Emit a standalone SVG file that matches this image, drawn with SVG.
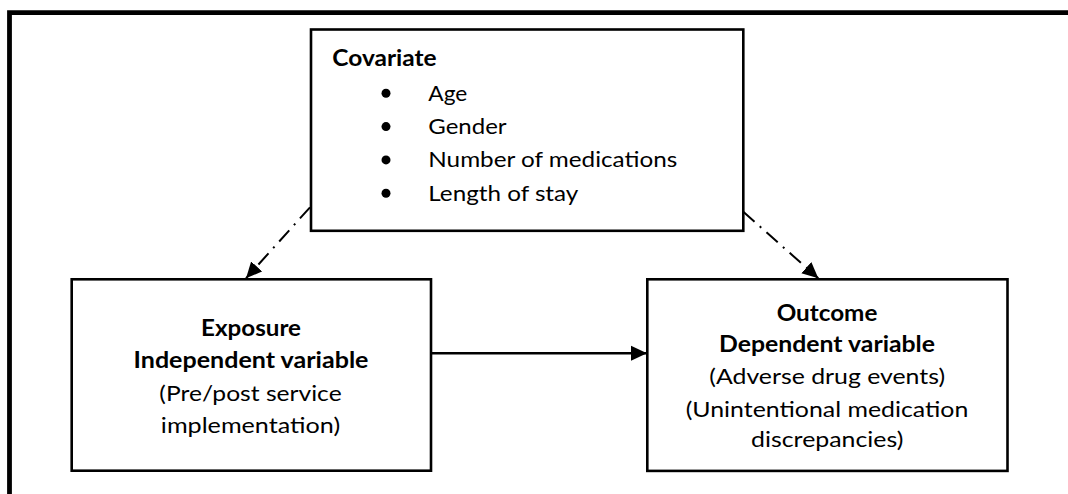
<svg xmlns="http://www.w3.org/2000/svg" width="1068" height="494" viewBox="0 0 1068 494">
<style>
.box{fill:#fff;stroke:#000;stroke-width:2.6}
.t{font-family:Lato,"Liberation Sans",sans-serif;font-size:22px;fill:#000}
.b{font-weight:bold}
.c{text-anchor:middle}
.dd{fill:none;stroke:#000;stroke-width:2;stroke-dasharray:15 7 2 7}
.sl{fill:none;stroke:#000;stroke-width:2.6}
</style>
<defs>
<marker id="ah" markerUnits="userSpaceOnUse" markerWidth="16" markerHeight="16" refX="16" refY="7.5" orient="auto" viewBox="0 0 16 15">
<path d="M0,0 L16,7.5 L0,15 z" fill="#000"/>
</marker>
</defs>
<path d="M9.5,500 V12.7 H1080" fill="none" stroke="#000" stroke-width="4.8"/>
<g id="connectors">
<path class="dd" d="M310,207.3 L246,278.3" marker-end="url(#ah)"/>
<path class="dd" d="M743.3,211.7 L818.3,278.3" marker-end="url(#ah)"/>
<path class="sl" d="M431,353.3 L647,353.3" marker-end="url(#ah)"/>
</g>
<g id="covariate">
<rect class="box" x="311" y="29.5" width="432.3" height="201.3"/>
<text class="t b" x="332.3" y="65.7" textLength="104.4" lengthAdjust="spacingAndGlyphs">Covariate</text>
<circle cx="386" cy="93.3" r="4.5"/>
<circle cx="386" cy="126.6" r="4.5"/>
<circle cx="386" cy="159.9" r="4.5"/>
<circle cx="386" cy="193.3" r="4.5"/>
<text class="t" x="428.3" y="100.7" textLength="39" lengthAdjust="spacingAndGlyphs">Age</text>
<text class="t" x="428.3" y="134" textLength="78.3" lengthAdjust="spacingAndGlyphs">Gender</text>
<text class="t" x="428.3" y="167.3" textLength="249" lengthAdjust="spacingAndGlyphs">Number of medications</text>
<text class="t" x="428.3" y="200.7" textLength="150" lengthAdjust="spacingAndGlyphs">Length of stay</text>
</g>
<g id="exposure">
<rect class="box" x="71.7" y="279.3" width="359.3" height="191.4"/>
<text class="t b c" x="251" y="335.7" textLength="100" lengthAdjust="spacingAndGlyphs">Exposure</text>
<text class="t b c" x="251" y="367.7" textLength="235" lengthAdjust="spacingAndGlyphs">Independent variable</text>
<text class="t c" x="250.5" y="401" textLength="182.3" lengthAdjust="spacingAndGlyphs">(Pre/post service</text>
<text class="t c" x="250.5" y="432.7" textLength="179.3" lengthAdjust="spacingAndGlyphs">implementation)</text>
</g>
<g id="outcome">
<rect class="box" x="647.3" y="279.3" width="360.2" height="191.6"/>
<text class="t b c" x="827" y="320.7" textLength="100.7" lengthAdjust="spacingAndGlyphs">Outcome</text>
<text class="t b c" x="827" y="351.7" textLength="216" lengthAdjust="spacingAndGlyphs">Dependent variable</text>
<text class="t c" x="827.2" y="384" textLength="235.7" lengthAdjust="spacingAndGlyphs">(Adverse drug events)</text>
<text class="t c" x="827" y="416.7" textLength="282.7" lengthAdjust="spacingAndGlyphs">(Unintentional medication</text>
<text class="t c" x="827.2" y="446.7" textLength="152.3" lengthAdjust="spacingAndGlyphs">discrepancies)</text>
</g>
</svg>
